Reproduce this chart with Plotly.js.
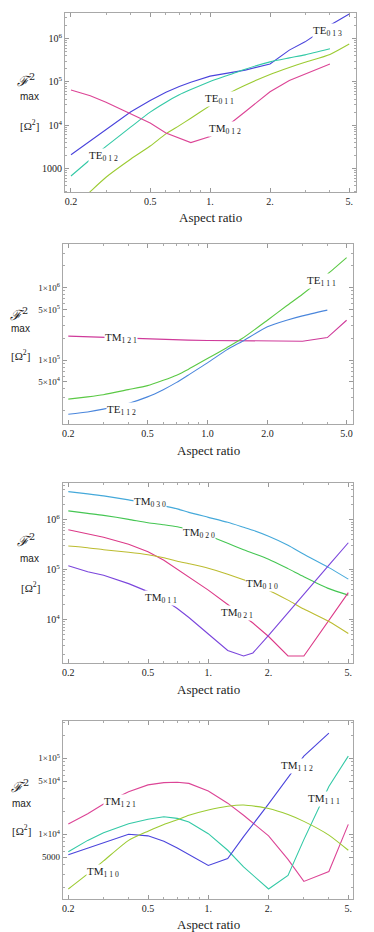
<!DOCTYPE html>
<html><head><meta charset="utf-8">
<script src="https://cdn.plot.ly/plotly-3.0.1.min.js"></script>
<style>html,body{margin:0;padding:0;background:#fff}#plot{width:374px;height:932px}</style>
</head><body><div id="plot"></div>
<script>
// ---- Data ----
const xP1 = [0.2,0.25,0.3,0.4,0.5,0.6,0.7,0.8,1,1.25,1.5,2,2.5,3,4,5];
const te013 = [2090,4370,7940,20400,37200,57500,77600,97700,135000,158000,186000,257000,537000,832000,2000000,3630000];
const te012 = [676,1620,3240,9120,20000,33900,50100,66100,102000,145000,195000,288000,355000,417000,575000,null];
const te011 = [112,295,631,1660,3310,6310,9770,14500,28200,55000,83200,148000,214000,282000,427000,741000];
const tm012 = [64600,47900,33900,18600,11200,6610,5010,3980,5500,10500,20400,58900,107000,151000,257000,null];

const xP2 = [0.2,0.25,0.3,0.4,0.5,0.6,0.7,0.8,1,1.25,1.5,2,2.5,3,4,5];
const tm121a = [213800,208900,206500,199500,195000,192800,190500,188400,186200,186200,185400,184100,182000,182000,204200,354800];
const te111 = [28800,30900,33100,38900,44200,52500,61700,74100,104700,147900,199500,354800,562300,812800,1531000,2600000];
const te112 = [17800,19100,20900,25100,30900,38900,49000,61700,91200,138000,182000,288400,354800,407400,489800,null];

const xP3 = [0.2,0.25,0.3,0.4,0.5,0.6,0.7,0.8,1,1.25,1.5,1.67,2,2.5,3,4,5];
const tm030 = [3673000,3311000,3020000,2512000,2188000,1905000,1660000,1413000,1122000,891000,708000,617000,468000,309000,204000,110000,64600];
const tm020 = [1514000,1349000,1230000,1023000,871000,794000,724000,631000,479000,339000,251000,214000,162000,105000,72400,41700,30900];
const tm021 = [631000,525000,447000,324000,229000,155000,102000,70800,38900,20000,11500,8510,4570,1860,1860,9550,34700];
const tm010 = [298500,275400,251200,223900,199500,173800,147900,131800,107200,81300,63100,52500,38900,24500,16200,9120,5250];
const tm011 = [120200,91200,77600,52500,36300,25100,16600,11000,5130,2400,1860,2140,4790,13800,31600,123000,347000];

const xP4 = [0.2,0.25,0.3,0.4,0.5,0.6,0.7,0.8,1,1.25,1.5,2,2.5,3,4,5];
const tm121b = [13650,18600,25100,36300,44700,47900,48400,46800,37200,25700,17800,9550,4680,2400,3240,13500];
const tm111 = [5890,8320,10500,13800,15800,17000,16200,14500,10200,6170,3720,1910,2880,8510,42700,107000];
const tm112 = [5370,6610,7760,10000,9550,8130,6610,5370,3890,4790,9330,25100,56200,107000,214000,null];
const tm110 = [1910,3020,4470,8320,11000,13500,15500,17800,20900,23400,24300,21900,18200,14800,9770,6170];

const xTickVals = [0.2,0.5,1,2,5];
const xTickTextA = ['0.2','0.5','1.','2.','5.'];
const xTickTextB = ['0.2','0.5','1.0','2.0','5.0'];

// ---- Build ----
const W = 374, H = 932;
const px = v => v / W, py = v => 1 - v / H;
function tr(x, y, color, n, smooth) {
  const line = {color: color, width: 1.1};
  if (smooth) { line.shape = 'spline'; line.smoothing = 0.6; }
  return {x: x, y: y, type: 'scatter', mode: 'lines', line: line,
    xaxis: n === 1 ? 'x' : 'x' + n, yaxis: n === 1 ? 'y' : 'y' + n, hoverinfo: 'skip', connectgaps: false};
}
const data = [
  tr(xP1, te013, '#4a44dc', 1), tr(xP1, te012, '#33c9a6', 1, true), tr(xP1, te011, '#9ccb33', 1, true), tr(xP1, tm012, '#dc4596', 1),
  tr(xP2, tm121a, '#cf3a9a', 2), tr(xP2, te111, '#5bc945', 2, true), tr(xP2, te112, '#4a86dc', 2, true),
  tr(xP3, tm030, '#45a9da', 3, true), tr(xP3, tm020, '#45c653', 3, true), tr(xP3, tm021, '#dc3a88', 3), tr(xP3, tm010, '#bcbc30', 3, true), tr(xP3, tm011, '#7b46dc', 3),
  tr(xP4, tm121b, '#dc4596', 4), tr(xP4, tm111, '#33c9a6', 4), tr(xP4, tm112, '#4a44dc', 4), tr(xP4, tm110, '#9ccb33', 4, true)
];

const minorX = [0.3,0.4,0.6,0.7,0.8,0.9,3,4];
function minorY(lo, hi, majors) {
  const out = [];
  for (let d = lo; d <= hi; d++) for (let m = 1; m <= 9; m++) {
    const v = m * Math.pow(10, d);
    if (!majors.includes(v)) out.push(v);
  }
  return out;
}
const tickFont = {family: 'Liberation Serif, Times New Roman, serif', size: 10, color: '#222'};
function xax(dom, rng, anchor, txt) {
  return {domain: dom, range: rng, anchor: anchor, type: 'log', tickvals: xTickVals, ticktext: txt,
    ticks: 'inside', ticklen: 4, tickcolor: '#999', showline: true, linecolor: '#a8a8a8', linewidth: 1,
    mirror: 'ticks', showgrid: false, zeroline: false, tickfont: tickFont, fixedrange: true,
    minor: {tickvals: minorX, ticks: 'inside', ticklen: 2, tickcolor: '#aaa', showgrid: false}};
}
function yax(dom, rng, anchor, vals, txt, fs) {
  return {domain: dom, range: rng, anchor: anchor, type: 'log', tickvals: vals, ticktext: txt,
    ticks: 'inside', ticklen: 4, tickcolor: '#999', showline: true, linecolor: '#a8a8a8', linewidth: 1,
    mirror: 'ticks', showgrid: false, zeroline: false, fixedrange: true,
    tickfont: {family: tickFont.family, size: fs, color: '#222'},
    minor: {tickvals: minorY(2, 6, vals), ticks: 'inside', ticklen: 2, tickcolor: '#aaa', showgrid: false}};
}

const layout = {
  width: W, height: H, margin: {l: 0, r: 0, t: 0, b: 0}, showlegend: false,
  paper_bgcolor: '#fff', plot_bgcolor: '#fff',
  xaxis:  xax([px(65), px(356)], [-0.729, 0.733], 'y', xTickTextA),
  yaxis:  yax([py(192.3), py(13.3)], [2.454, 6.578], 'x', [1000,1e4,1e5,1e6], ['1000','10<sup>4</sup>','10<sup>5</sup>','10<sup>6</sup>'], 10),
  xaxis2: xax([px(62.7), px(352.7)], [-0.727, 0.7295], 'y2', xTickTextB),
  yaxis2: yax([py(424), py(244)], [4.115, 6.604], 'x2', [5e4,1e5,5e5,1e6], ['5×10<sup>4</sup>','1×10<sup>5</sup>','5×10<sup>5</sup>','1×10<sup>6</sup>'], 9),
  xaxis3: xax([px(62.7), px(353)], [-0.727, 0.7224], 'y3', xTickTextA),
  yaxis3: yax([py(663.3), py(483.3)], [3.122, 6.733], 'x3', [1e4,1e5,1e6], ['10<sup>4</sup>','10<sup>5</sup>','10<sup>6</sup>'], 10),
  xaxis4: xax([px(62.7), px(352.7)], [-0.727, 0.721], 'y4', xTickTextA),
  yaxis4: yax([py(899.3), py(720.7)], [3.145, 5.495], 'x4', [5000,1e4,5e4,1e5], ['5000','1×10<sup>4</sup>','5×10<sup>4</sup>','1×10<sup>5</sup>'], 9),
  annotations: []
};

const serif = 'Liberation Serif, Times New Roman, serif';
function ann(text, x, y, size, fam, bg) {
  layout.annotations.push({text: text, x: px(x), y: py(y), xref: 'paper', yref: 'paper', showarrow: false,
    xanchor: 'center', yanchor: 'middle', font: {family: fam || serif, size: size, color: '#222'},
    bgcolor: bg ? '#fff' : 'rgba(0,0,0,0)', borderpad: 0});
}
// axis titles
[[210.7, 218], [208, 450], [208, 689], [208, 924]].forEach(p => ann('Aspect ratio', p[0], p[1], 13));
[[26, 80, 29, 97, 29, 125], [19, 314, 20, 328, 20, 355], [26, 540, 29, 558, 30, 587], [20, 786, 21, 803, 21, 830]].forEach(p => {
  ann('<i>ℱ</i><sup>2</sup>', p[0], p[1], 14, 'DejaVu Serif, serif');
  ann('max', p[2], p[3], 10, 'Liberation Sans, Arial, sans-serif');
  ann('[Ω<sup>2</sup>]', p[4], p[5], 11);
});
// curve labels
const lab = [
  ['TE<sub>0 1 3</sub>', 327, 31], ['TE<sub>0 1 1</sub>', 219, 99], ['TM<sub>0 1 2</sub>', 225, 129], ['TE<sub>0 1 2</sub>', 103, 156],
  ['TM<sub>1 2 1</sub>', 121, 338], ['TE<sub>1 1 2</sub>', 121, 410], ['TE<sub>1 1 1</sub>', 321, 281],
  ['TM<sub>0 3 0</sub>', 150, 502], ['TM<sub>0 2 0</sub>', 199, 533], ['TM<sub>0 1 0</sub>', 262, 584], ['TM<sub>0 1 1</sub>', 161, 598], ['TM<sub>0 2 1</sub>', 237, 613],
  ['TM<sub>1 2 1</sub>', 120, 802], ['TM<sub>1 1 0</sub>', 103, 872], ['TM<sub>1 1 2</sub>', 297, 766], ['TM<sub>1 1 1</sub>', 324, 799]
];
lab.forEach(l => ann(l[0], l[1], l[2], 11, serif, true));

Plotly.newPlot('plot', data, layout, {staticPlot: true, displayModeBar: false});
</script></body></html>
